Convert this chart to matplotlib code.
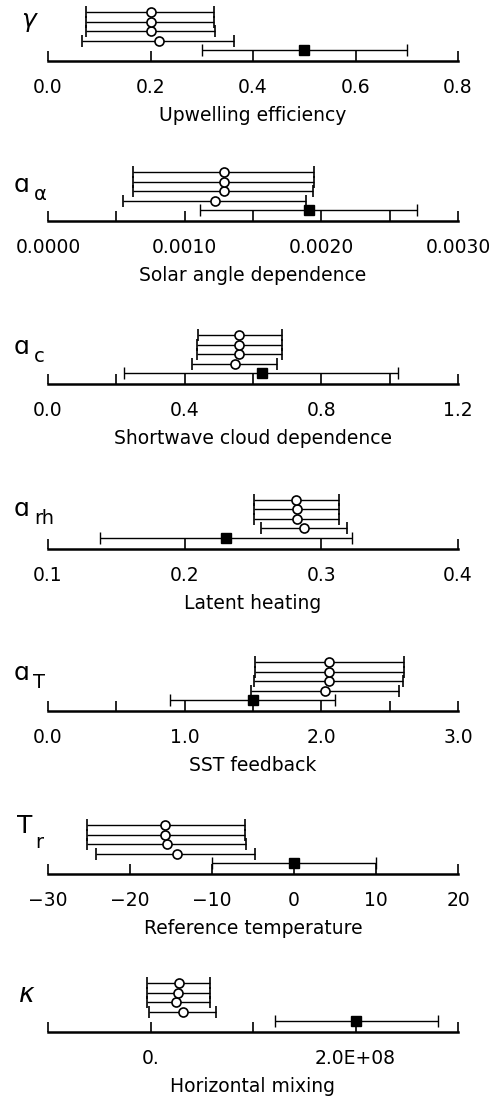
import numpy as np
import matplotlib.pyplot as plt
from matplotlib.ticker import FixedLocator, FixedFormatter

plt.rcParams['font.family'] = ['DejaVu Sans']

# parameter names / axis titles
names = ['γ', 'ɑ', 'ɑ', 'ɑ', 'ɑ', 'T', 'κ']
subs = ['', 'α', 'c', 'rh', 'T', 'r', '']
xlabels = ['Upwelling efficiency', 'Solar angle dependence', 'Shortwave cloud dependence',
           'Latent heating', 'SST feedback', 'Reference temperature', 'Horizontal mixing']

# prior estimate (filled square): centre, low, high
prior_c = [0.50, 0.00191, 0.625, 0.2305, 1.50, 0.0, 2.0e8]
prior_lo = [0.30, 0.00111, 0.221, 0.138, 0.895, -10.0, 1.21e8]
prior_hi = [0.70, 0.00270, 1.023, 0.3224, 2.098, 10.0, 2.80e8]

# posterior estimates (open circles), bottom row first
post_c = [[0.216, 0.200, 0.200, 0.201],
          [0.00122, 0.00129, 0.00129, 0.00129],
          [0.546, 0.560, 0.560, 0.560],
          [0.2876, 0.282, 0.282, 0.2817],
          [2.024, 2.054, 2.059, 2.059],
          [-14.3, -15.5, -15.7, -15.7],
          [3.2e7, 2.5e7, 2.7e7, 2.8e7]]
post_lo = [[0.067, 0.075, 0.075, 0.075],
           [0.00055, 0.00062, 0.00062, 0.00062],
           [0.420, 0.435, 0.435, 0.438],
           [0.2559, 0.251, 0.2505, 0.2505],
           [1.485, 1.510, 1.517, 1.517],
           [-24.1, -25.2, -25.3, -25.3],
           [-1.5e6, -3.5e6, -3.5e6, -3.4e6]]
post_hi = [[0.363, 0.326, 0.323, 0.323],
           [0.00189, 0.00194, 0.00195, 0.00195],
           [0.670, 0.685, 0.685, 0.685],
           [0.3188, 0.313, 0.313, 0.3127],
           [2.571, 2.595, 2.602, 2.602],
           [-4.7, -5.9, -5.95, -5.95],
           [6.4e7, 5.8e7, 5.8e7, 5.8e7]]

# axis ranges, tick positions and tick labels
xlims = [(0, 0.8), (0, 0.003), (0, 1.2), (0.1, 0.4), (0, 3.0), (-30, 20), (-1e8, 3e8)]
ticks = [[0, 0.2, 0.4, 0.6, 0.8],
         [0, 0.0005, 0.001, 0.0015, 0.002, 0.0025, 0.003],
         [0, 0.2, 0.4, 0.6, 0.8, 1.0, 1.2],
         [0.1, 0.2, 0.3, 0.4],
         [0, 0.5, 1.0, 1.5, 2.0, 2.5, 3.0],
         [-30, -20, -10, 0, 10, 20],
         [-1e8, 0, 1e8, 2e8, 3e8]]
ticklabels = [['0.0', '0.2', '0.4', '0.6', '0.8'],
              ['0.0000', '', '0.0010', '', '0.0020', '', '0.0030'],
              ['0.0', '', '0.4', '', '0.8', '', '1.2'],
              ['0.1', '0.2', '0.3', '0.4'],
              ['0.0', '', '1.0', '', '2.0', '', '3.0'],
              ['\u221230', '\u221220', '\u221210', '0', '10', '20'],
              ['', '0.', '', '2.0E+08', '']]

W, H = 503, 1100
fig = plt.figure(figsize=(W / 100, H / 100), dpi=100)

axis_y = [61, 221, 384, 549, 711, 874, 1032]   # pixel row of each axis line
unit = 9.5                                   # pixels between rows
y0 = 1 - 11 / unit
ax_h = 56

# where the parameter symbols sit (pixels)
name_pos = [(29, 20), (22, 185), (22, 347), (22, 509), (22, 673), (25, 826), (27, 995)]
sub_pos = [None, (40, 195), (39, 357), (44, 518), (39, 682), (39, 842), None]
name_size = [18, 18, 18, 18, 18, 18, 19]

for i in range(7):
    ax = fig.add_axes([48 / W, 1 - axis_y[i] / H, 410 / W, ax_h / H])
    for s in ['top', 'left', 'right']:
        ax.spines[s].set_visible(False)
    ax.spines['bottom'].set_linewidth(1.8)
    ax.set_yticks([])
    ax.set_ylim(y0, y0 + ax_h / unit)
    ax.set_xlim(*xlims[i])

    ax.xaxis.set_major_locator(FixedLocator(ticks[i]))
    ax.xaxis.set_major_formatter(FixedFormatter(ticklabels[i]))
    ax.tick_params(axis='x', direction='in', length=7, width=1.2, pad=12, labelsize=13.5)
    ax.set_xlabel(xlabels[i], fontsize=13.5, labelpad=7)

    c = np.array(post_c[i])
    lo = np.array(post_lo[i])
    hi = np.array(post_hi[i])
    rows = np.arange(2, 6)
    ax.errorbar(c, rows, xerr=[c - lo, hi - c], fmt='o', mfc='white', mec='black',
                mew=1.2, ms=6.5, ecolor='black', elinewidth=1.0, capsize=4.5, capthick=1.0,
                clip_on=False)
    ax.errorbar([prior_c[i]], [1], xerr=[[prior_c[i] - prior_lo[i]], [prior_hi[i] - prior_c[i]]],
                fmt='s', color='black', ms=7, elinewidth=1.0, capsize=4.5, capthick=1.0,
                clip_on=False)

    fig.text(name_pos[i][0] / W, 1 - name_pos[i][1] / H, names[i], fontsize=name_size[i],
             style='italic' if names[i] in ('γ', 'κ') else 'normal', ha='center', va='center')
    if sub_pos[i] is not None:
        fig.text(sub_pos[i][0] / W, 1 - sub_pos[i][1] / H, subs[i], fontsize=14,
                 ha='center', va='center')

fig.savefig('out.png', dpi=100)
